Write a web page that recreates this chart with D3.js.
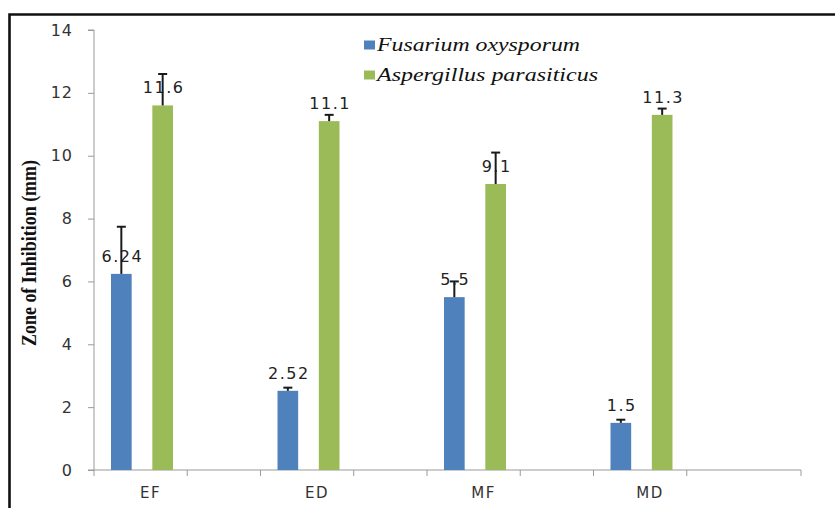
<!DOCTYPE html>
<html>
<head>
<meta charset="utf-8">
<script src="https://cdn.jsdelivr.net/npm/d3@7"></script>
<style>
  body { margin: 0; background: #fff; }
  svg { display: block; }
</style>
</head>
<body>
<svg></svg>
<script>
const categories = ['EF', 'ED', 'MF', 'MD'];
const seriesNames = ['Fusarium oxysporum', 'Aspergillus parasiticus'];
const fusarium = [6.24, 2.52, 5.5, 1.5];
const aspergillus = [11.6, 11.1, 9.1, 11.3];
const fusariumErr = [1.5, 0.1, 0.5, 0.1];
const aspergillusErr = [1.0, 0.2, 1.0, 0.2];
const valueLabels = [['6.24', '2.52', '5.5', '1.5'], ['11.6', '11.1', '9.1', '11.3']];
const yTicks = [0, 2, 4, 6, 8, 10, 12, 14];

const colors = ['#4f81bd', '#9bbb59'];
const axisColor = '#9a9a9a';
const textColor = '#333';

const width = 835;
const height = 508;
const plotLeft = 94, plotTop = 30, plotBottom = 470, axisEnd = 801;

var svg = d3.select('svg').attr('width', width).attr('height', height);

var y = d3.scaleLinear().domain([0, 14]).range([plotBottom, plotTop]);
var x = d3.scaleBand().domain(categories).range([plotLeft, 760]);
var x1 = d3.scaleBand().domain(seriesNames).range([17, 79]).paddingInner(0.5);

// frame
svg.append('path')
  .attr('d', `M9.5,${height + 5} V14.5 H${width + 5}`)
  .attr('fill', 'none').attr('stroke', '#111').attr('stroke-width', 2.6);

// y axis
var gy = svg.append('g').attr('transform', `translate(${plotLeft},0)`)
  .call(d3.axisLeft(y).tickValues(yTicks).tickSize(6).tickPadding(15).tickFormat(d3.format('d')));
gy.select('.domain').attr('stroke', axisColor).attr('d', `M-6,${plotTop}H0V${plotBottom}H-6`);
gy.selectAll('.tick line').attr('stroke', axisColor);
gy.selectAll('.tick text')
  .attr('fill', textColor).style('font-family', 'DejaVu Sans').style('font-size', '16px')
  .style('letter-spacing', '1px');

// x axis
var xTicks = [];
categories.forEach(c => { xTicks.push(x(c)); xTicks.push(x(c) + x.step() * 0.56); });
xTicks.push(axisEnd);
var gx = svg.append('g');
gx.append('line').attr('x1', plotLeft).attr('x2', axisEnd).attr('y1', plotBottom).attr('y2', plotBottom)
  .attr('stroke', axisColor);
gx.selectAll('line.tick').data(xTicks).enter().append('line').classed('tick', true)
  .attr('x1', d => d).attr('x2', d => d).attr('y1', plotBottom).attr('y2', plotBottom + 6)
  .attr('stroke', axisColor);
gx.selectAll('text').data(categories).enter().append('text')
  .attr('x', d => x(d) + x.step() * 0.34).attr('y', 498)
  .attr('text-anchor', 'middle').attr('fill', textColor)
  .style('font-family', 'DejaVu Sans').style('font-size', '15px').style('letter-spacing', '1.5px')
  .text(d => d);

// bars
var series = [fusarium, aspergillus];
var errs = [fusariumErr, aspergillusErr];
var rows = [];
series.forEach((s, si) => s.forEach((v, ci) => rows.push({
  s: seriesNames[si], si: si, c: categories[ci], v: v, e: errs[si][ci], label: valueLabels[si][ci]
})));

var bars = svg.append('g');
bars.selectAll('rect').data(rows).enter().append('rect')
  .attr('x', d => x(d.c) + x1(d.s)).attr('width', x1.bandwidth())
  .attr('y', d => y(d.v)).attr('height', d => y(0) - y(d.v))
  .attr('fill', d => colors[d.si]);

// value labels
bars.selectAll('text').data(rows).enter().append('text')
  .attr('x', d => x(d.c) + x1(d.s) + x1.bandwidth() / 2 + 1)
  .attr('y', d => y(d.v) - 12)
  .attr('text-anchor', 'middle').attr('fill', '#222')
  .style('font-family', 'DejaVu Sans').style('font-size', '16px').style('letter-spacing', '1.5px')
  .text(d => d.label);

// error bars (plus side only)
var eb = svg.append('g').attr('stroke', '#1a1a1a').attr('stroke-width', 2);
rows.forEach(d => {
  var cx = x(d.c) + x1(d.s) + x1.bandwidth() / 2;
  eb.append('line').attr('x1', cx).attr('x2', cx).attr('y1', y(d.v)).attr('y2', y(d.v + d.e));
  eb.append('line').attr('x1', cx - 4.5).attr('x2', cx + 4.5).attr('y1', y(d.v + d.e)).attr('y2', y(d.v + d.e));
});

// y axis title
svg.append('text')
  .attr('transform', 'translate(36,253) rotate(-90)')
  .attr('text-anchor', 'middle').attr('fill', '#111')
  .attr('textLength', 186).attr('lengthAdjust', 'spacingAndGlyphs')
  .style('font-family', 'Liberation Serif').style('font-size', '20px').style('font-weight', 'bold')
  .text('Zone of Inhibition (mm)');

// legend
var legend = svg.append('g');
var legendY = [45, 75];
var legendW = [203, 221];
seriesNames.forEach((n, i) => {
  legend.append('rect').attr('x', 364).attr('y', legendY[i] - 4.5).attr('width', 11).attr('height', 9)
    .attr('fill', colors[i]);
  legend.append('text').attr('x', 377).attr('y', legendY[i] + 6)
    .attr('textLength', legendW[i]).attr('lengthAdjust', 'spacingAndGlyphs')
    .attr('fill', '#111')
    .style('font-family', 'Liberation Serif').style('font-size', '19px').style('font-style', 'italic')
    .text(n);
});
</script>
</body>
</html>
